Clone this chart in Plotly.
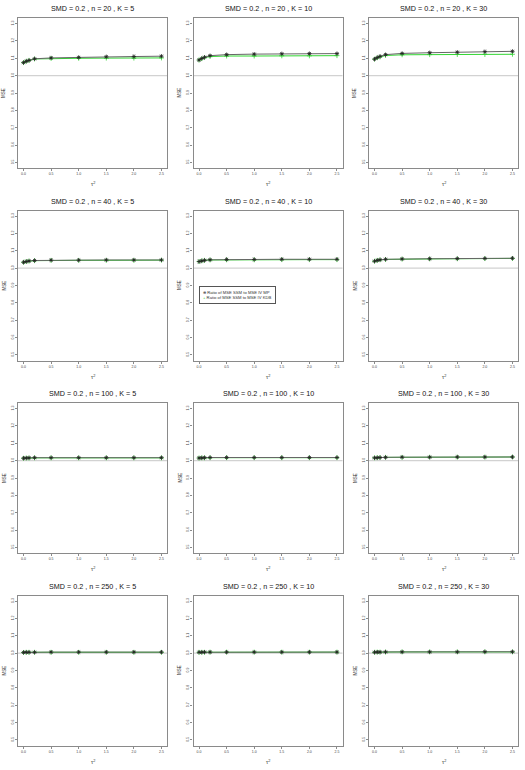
import plotly.graph_objects as go
from plotly.subplots import make_subplots

W, H = 525, 770

tau2 = [0.0, 0.05, 0.1, 0.2, 0.5, 1.0, 1.5, 2.0, 2.5]
sample_sizes = [20, 40, 100, 250]
k_values = [5, 10, 30]
x_ticks = [0.0, 0.5, 1.0, 1.5, 2.0, 2.5]
y_ticks = [0.5, 0.6, 0.7, 0.8, 0.9, 1.0, 1.1, 1.2, 1.3]

# n = 20
mp_20_5 = [1.075, 1.083, 1.088, 1.097, 1.102, 1.105, 1.109, 1.110, 1.112]
kdb_20_5 = [1.075, 1.083, 1.088, 1.096, 1.099, 1.100, 1.101, 1.101, 1.102]
mp_20_10 = [1.090, 1.099, 1.106, 1.115, 1.121, 1.124, 1.126, 1.127, 1.127]
kdb_20_10 = [1.090, 1.098, 1.104, 1.110, 1.113, 1.113, 1.114, 1.114, 1.115]
mp_20_30 = [1.095, 1.104, 1.111, 1.121, 1.128, 1.132, 1.135, 1.138, 1.140]
kdb_20_30 = [1.095, 1.103, 1.108, 1.116, 1.120, 1.121, 1.122, 1.122, 1.123]
# n = 40
mp_40_5 = [1.034, 1.038, 1.041, 1.044, 1.046, 1.046, 1.047, 1.047, 1.047]
kdb_40_5 = [1.034, 1.038, 1.041, 1.043, 1.045, 1.045, 1.045, 1.045, 1.046]
mp_40_10 = [1.038, 1.042, 1.045, 1.048, 1.050, 1.050, 1.051, 1.051, 1.051]
kdb_40_10 = [1.038, 1.042, 1.045, 1.047, 1.048, 1.048, 1.049, 1.049, 1.049]
mp_40_30 = [1.040, 1.045, 1.048, 1.051, 1.053, 1.054, 1.055, 1.056, 1.057]
kdb_40_30 = [1.040, 1.045, 1.048, 1.050, 1.052, 1.053, 1.054, 1.055, 1.056]
# n = 100
mp_100_5 = [1.014, 1.015, 1.016, 1.017, 1.017, 1.017, 1.017, 1.017, 1.017]
kdb_100_5 = [1.014, 1.015, 1.015, 1.016, 1.016, 1.016, 1.016, 1.016, 1.016]
mp_100_10 = [1.015, 1.016, 1.017, 1.018, 1.018, 1.018, 1.018, 1.018, 1.018]
kdb_100_10 = [1.015, 1.016, 1.016, 1.017, 1.017, 1.017, 1.017, 1.017, 1.017]
mp_100_30 = [1.016, 1.017, 1.018, 1.019, 1.020, 1.020, 1.021, 1.021, 1.021]
kdb_100_30 = [1.016, 1.017, 1.018, 1.019, 1.019, 1.020, 1.020, 1.020, 1.021]
# n = 250
mp_250_5 = [1.004, 1.005, 1.005, 1.005, 1.006, 1.006, 1.006, 1.006, 1.006]
kdb_250_5 = [1.004, 1.005, 1.005, 1.005, 1.005, 1.005, 1.005, 1.005, 1.005]
mp_250_10 = [1.005, 1.005, 1.006, 1.006, 1.006, 1.006, 1.006, 1.006, 1.006]
kdb_250_10 = [1.005, 1.005, 1.005, 1.006, 1.006, 1.006, 1.006, 1.006, 1.006]
mp_250_30 = [1.005, 1.006, 1.006, 1.007, 1.007, 1.007, 1.007, 1.008, 1.008]
kdb_250_30 = [1.005, 1.006, 1.006, 1.006, 1.007, 1.007, 1.007, 1.007, 1.007]

mp = [[mp_20_5, mp_20_10, mp_20_30], [mp_40_5, mp_40_10, mp_40_30],
      [mp_100_5, mp_100_10, mp_100_30], [mp_250_5, mp_250_10, mp_250_30]]
kdb = [[kdb_20_5, kdb_20_10, kdb_20_30], [kdb_40_5, kdb_40_10, kdb_40_30],
       [kdb_100_5, kdb_100_10, kdb_100_30], [kdb_250_5, kdb_250_10, kdb_250_30]]

GREEN = "#33d633"
BOX = "#8a8a8a"
FONT = "Liberation Sans, Arial, sans-serif"

fig = make_subplots(rows=4, cols=3)

for r in range(4):
    for c in range(3):
        fig.add_trace(go.Scatter(
            x=tau2, y=kdb[r][c], mode="lines+markers",
            name="Ratio of MSE SSM to MSE IV KDB",
            line=dict(color=GREEN, width=1),
            marker=dict(symbol="cross-thin-open", size=3.5, color=GREEN,
                        line=dict(color=GREEN, width=0.8))), row=r + 1, col=c + 1)
        fig.add_trace(go.Scatter(
            x=tau2, y=mp[r][c], mode="lines+markers",
            name="Ratio of MSE SSM to MSE IV MP",
            line=dict(color="#666", width=1),
            marker=dict(symbol="asterisk-open", size=3.5, color="#222",
                        line=dict(color="#222", width=0.8))), row=r + 1, col=c + 1)

annotations = []
shapes = []
for r in range(4):
    top = 18 + 192.5 * r
    bot = 168 + 192.5 * r
    for c in range(3):
        left = 18 + 175.5 * c
        right = 167 + 175.5 * c
        idx = r * 3 + c + 1
        sfx = "" if idx == 1 else str(idx)
        fig.layout["xaxis" + sfx].update(
            domain=[left / W, right / W], range=[-0.1, 2.6],
            tickvals=x_ticks, ticktext=["%.1f" % v for v in x_ticks],
            ticks="outside", ticklen=2, tickcolor=BOX, tickwidth=0.8,
            tickfont=dict(size=3.5, color="#444", family=FONT),
            showline=True, mirror=True, linecolor=BOX, linewidth=1.2,
            showgrid=False, zeroline=False)
        fig.layout["yaxis" + sfx].update(
            domain=[1 - bot / H, 1 - top / H], range=[0.468, 1.332],
            tickvals=y_ticks, ticktext=["%.1f" % v for v in y_ticks],
            tickangle=-90,
            ticks="outside", ticklen=2, tickcolor=BOX, tickwidth=0.8,
            tickfont=dict(size=3.5, color="#444", family=FONT),
            showline=True, mirror=True, linecolor=BOX, linewidth=1.2,
            showgrid=False, zeroline=False)
        shapes.append(dict(type="line", xref="x" + sfx + " domain", yref="y" + sfx,
                           x0=0, x1=1, y0=1.0, y1=1.0,
                           line=dict(color="#d2d2d2", width=1.3), layer="below"))
        annotations.append(dict(
            text="SMD = 0.2 , n = %d , K = %d" % (sample_sizes[r], k_values[c]),
            xref="paper", yref="paper", x=(left + right) / 2 / W, y=1 - (top - 9) / H,
            xanchor="center", yanchor="middle",
            showarrow=False, font=dict(size=7.2, color="#111", family=FONT)))
        annotations.append(dict(
            text="MSE", textangle=-90, xref="paper", yref="paper",
            x=(left - 14) / W, y=1 - (top + bot) / 2 / H,
            xanchor="center", yanchor="middle", showarrow=False,
            font=dict(size=4.5, color="#333", family=FONT)))
        annotations.append(dict(
            text="τ<sup>2</sup>", xref="paper", yref="paper",
            x=(left + right) / 2 / W, y=1 - (bot + 16) / H,
            xanchor="center", yanchor="middle", showarrow=False,
            font=dict(size=5.5, color="#333", family=FONT)))

# legend box drawn as a bordered text block inside the middle panel
annotations.append(dict(
    text=("<span style='color:#222'>⊕</span> Ratio of MSE SSM to MSE IV MP<br>"
          "<span style='color:%s'>+</span> Ratio of MSE SSM to MSE IV KDB" % GREEN),
    xref="paper", yref="paper", x=199 / W, y=1 - 286 / H,
    xanchor="left", yanchor="top", align="left", showarrow=False,
    bgcolor="white", bordercolor="#555", borderwidth=1, borderpad=3,
    font=dict(size=4.2, color="#333", family=FONT)))

fig.update_layout(
    width=W, height=H, margin=dict(l=0, r=0, t=0, b=0),
    paper_bgcolor="white", plot_bgcolor="white",
    annotations=annotations, shapes=shapes, showlegend=False,
)

fig.write_html("out.html", config={"displayModeBar": False},
               post_script="document.body.style.margin='0';")
